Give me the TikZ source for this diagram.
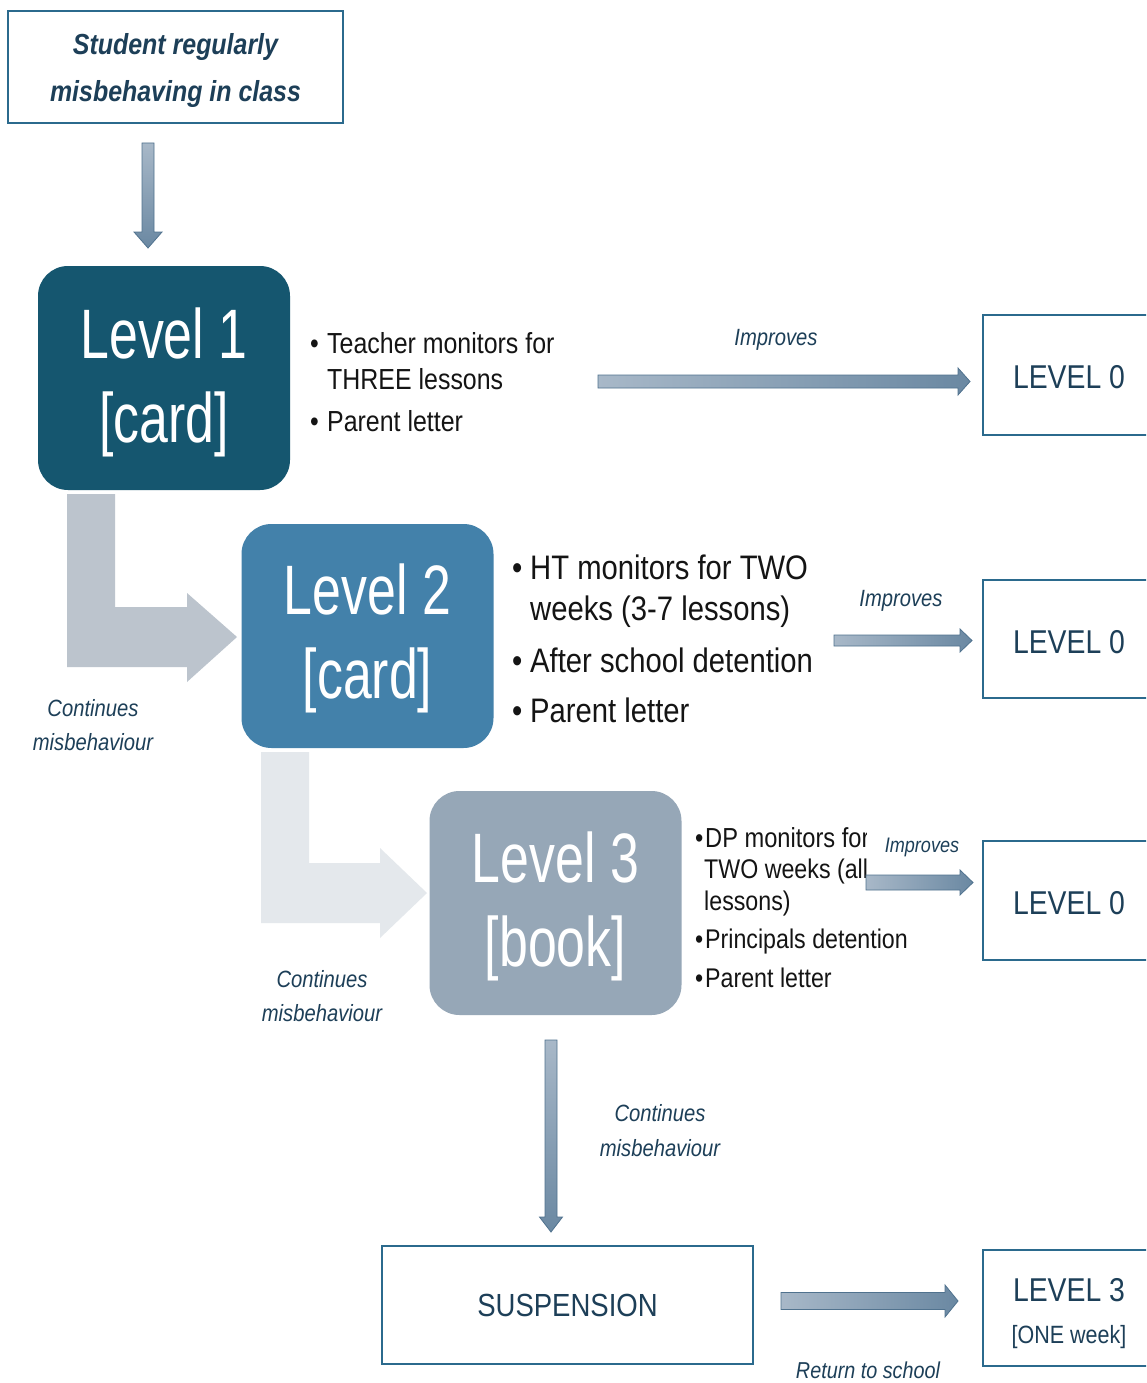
\documentclass[tikz,border=0pt]{standalone}
\usepackage{fontspec}
\setmainfont{Liberation Sans}[FakeStretch=0.86]
\newfontfamily\levelfont{Liberation Sans}[FakeStretch=0.74]

\definecolor{boxline}{HTML}{2B6A8D}
\definecolor{navy}{HTML}{1D3F58}
\definecolor{lvlone}{HTML}{15566F}
\definecolor{lvltwo}{HTML}{4381AA}
\definecolor{lvlthree}{HTML}{96A7B7}
\definecolor{bendone}{HTML}{BCC4CD}
\definecolor{bendtwo}{HTML}{E4E8EC}
\definecolor{arrlight}{HTML}{A8B8C8}
\definecolor{arrdark}{HTML}{6A88A2}
\definecolor{arredge}{HTML}{50728E}
\definecolor{ink}{HTML}{141414}

% horizontal block arrow: start x, tip x, centre y, shaft half, head half, head length
\newcommand\flowarrowH[6]{%
  \shadedraw[left color=arrlight,right color=arrdark,draw=arredge,line width=0.8pt]
  (#1,{#3-#4}) -- ({#2-#6},{#3-#4}) -- ({#2-#6},{#3-#5}) -- (#2,#3)
  -- ({#2-#6},{#3+#5}) -- ({#2-#6},{#3+#4}) -- (#1,{#3+#4}) -- cycle;}
% vertical block arrow: centre x, start y, tip y, shaft half, head half, head length
\newcommand\flowarrowV[6]{%
  \shadedraw[top color=arrlight,bottom color=arrdark,draw=arredge,line width=0.8pt]
  ({#1-#4},#2) -- ({#1+#4},#2) -- ({#1+#4},{#3-#6}) -- ({#1+#5},{#3-#6}) -- (#1,#3)
  -- ({#1-#5},{#3-#6}) -- ({#1-#4},{#3-#6}) -- cycle;}

\begin{document}
\begin{tikzpicture}[x=1pt,y=-1pt,
  frame/.style={draw=boxline,line width=2.4pt,fill=white,inner sep=0pt,text=navy},
  levelbox/.style={rounded corners=30pt,inner sep=0pt,minimum width=252pt,
    minimum height=224pt},
  leveltext/.style={text=white,align=center,inner sep=0pt,
    font=\levelfont\fontsize{70}{84}\selectfont},
  zerobox/.style={frame,minimum width=177pt,font=\fontsize{33}{40}\selectfont},
  bul/.style={anchor=base west,inner sep=0pt,text=ink},
  note/.style={text=navy,font=\itshape\fontsize{23.5}{34}\selectfont,align=center,inner sep=0pt}]

\useasboundingbox (0,0) rectangle (1146,1383);
\clip (0,0) rectangle (1146,1383);
\fill[white] (0,0) rectangle (1146,1383);

% bent "continues" arrows behind the level boxes
\fill[bendone] (67,494) -- (115,494) -- (115,607) -- (187,607) -- (187,593) -- (237,637)
  -- (187,682) -- (187,667) -- (67,667) -- cycle;
\fill[bendtwo] (261,752) -- (309,752) -- (309,863) -- (380,863) -- (380,848) -- (427,893)
  -- (380,938) -- (380,923) -- (261,923) -- cycle;

% start box
\node[frame,minimum width=335pt,minimum height=112pt] (start) at (175.5,67) {};
\node[text=navy,align=center,inner sep=0pt,
  font=\bfseries\itshape\fontsize{29}{47}\selectfont] (starttext) at (175.5,71)
  {Student regularly\\misbehaving in class};

% level boxes
\node[levelbox,fill=lvlone] (lv1) at (164,378) {};
\node[leveltext] (lv1t) at (164,382) {Level 1\\{[card]}};
\node[levelbox,fill=lvltwo] (lv2) at (367.5,636) {};
\node[leveltext] (lv2t) at (367.5,638) {Level 2\\{[card]}};
\node[levelbox,fill=lvlthree] (lv3) at (555.5,903) {};
\node[leveltext] (lv3t) at (555.5,906) {Level 3\\{[book]}};

% outcome boxes
\node[zerobox,minimum height=120pt] (zero1) at (1071.5,375) {};
\node[text=navy,inner sep=0pt,font=\fontsize{33}{40}\selectfont] (zero1t) at (1069,377) {LEVEL 0};
\node[zerobox,minimum height=118pt] (zero2) at (1071.5,639) {};
\node[text=navy,inner sep=0pt,font=\fontsize{33}{40}\selectfont] (zero2t) at (1069,642) {LEVEL 0};
\node[zerobox,minimum height=119pt] (zero3) at (1071.5,900.5) {};
\node[text=navy,inner sep=0pt,font=\fontsize{33}{40}\selectfont] (zero3t) at (1069,903) {LEVEL 0};
\node[frame,minimum width=371pt,minimum height=118pt,font=\fontsize{32}{40}\selectfont]
  (susp) at (567.5,1305) {SUSPENSION};
\node[zerobox,minimum height=116pt] (back3) at (1071.5,1308) {};
\node[text=navy,inner sep=0pt,font=\fontsize{33}{40}\selectfont] (back3a) at (1069,1290) {LEVEL 3};
\node[text=navy,inner sep=0pt,font=\fontsize{25}{30}\selectfont] (back3b) at (1069,1337) {[ONE week]};

% actions for level 1
\begin{scope}[font=\fontsize{29}{34}\selectfont]
  \node[bul] (a1a) at (310,353) {\makebox[17pt][l]{•}Teacher monitors for};
  \node[bul] (a1b) at (327,389) {THREE lessons};
  \node[bul] (a1c) at (310,431) {\makebox[17pt][l]{•}Parent letter};
\end{scope}

% actions for level 2
\begin{scope}[font=\fontsize{34}{40}\selectfont]
  \node[bul] (a2a) at (512,579) {\makebox[18pt][l]{•}HT monitors for TWO};
  \node[bul] (a2b) at (530,620) {weeks (3-7 lessons)};
  \node[bul] (a2c) at (512,672) {\makebox[18pt][l]{•}After school detention};
  \node[bul] (a2d) at (512,722) {\makebox[18pt][l]{•}Parent letter};
\end{scope}

% actions for level 3 (first item runs under the arrow)
\begin{scope}[font=\fontsize{27}{34}\selectfont]
  \begin{scope}
    \clip (680,800) rectangle (866,900);
    \node[bul,font=\fontsize{27.5}{34}\selectfont] (a3a) at (695,847) {\makebox[10pt][l]{•}DP monitors for};
    \node[bul] (a3b) at (704,878) {TWO weeks (all};
  \end{scope}
  \node[bul] (a3c) at (704,910) {lessons)};
  \node[bul] (a3d) at (695,948) {\makebox[10pt][l]{•}Principals detention};
  \node[bul] (a3e) at (695,987) {\makebox[10pt][l]{•}Parent letter};
\end{scope}

% arrows
\flowarrowV{148}{143}{248}{6}{14}{16}
\flowarrowH{598}{970}{381.5}{6.5}{13.5}{12}
\flowarrowH{834}{972}{640.5}{5.5}{11.5}{12}
\flowarrowH{866}{973}{882.5}{7.5}{12.5}{13}
\flowarrowV{551}{1040}{1232}{6}{11.5}{15}
\flowarrowH{781}{958}{1301}{8.5}{16}{13}

% arrow labels
\node[note] (imp1) at (776,340) {Improves};
\node[note] (imp2) at (901,601) {Improves};
\node[note,font=\itshape\fontsize{21}{30}\selectfont] (imp3) at (922,847) {Improves};
\node[note] (cont1) at (93,725) {Continues\\misbehaviour};
\node[note] (cont2) at (322,996.5) {Continues\\misbehaviour};
\node[note,font=\itshape\fontsize{23.5}{35}\selectfont] (cont3) at (660,1130.5) {Continues\\misbehaviour};
\node[note,font=\itshape\fontsize{23}{30}\selectfont] (ret) at (868,1370) {Return to school};
\end{tikzpicture}
\end{document}
